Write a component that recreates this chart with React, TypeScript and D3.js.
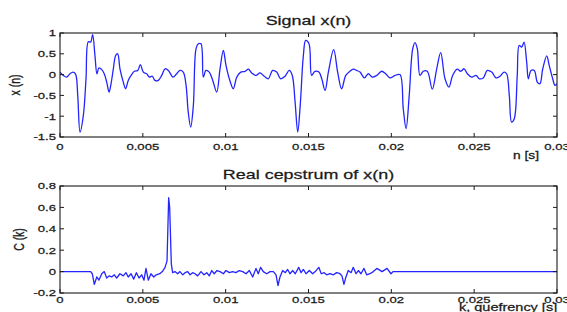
import * as d3 from 'd3';
import React from 'react';

const width = 567;
const height = 312;
const SX = 1.38; // the original figure is stretched horizontally

const xTickVals = [0, 0.005, 0.01, 0.015, 0.02, 0.025, 0.03];
const xTickLabels = ["0", "0.005", "0.01", "0.015", "0.02", "0.025", "0.03"];
const sigTickVals = [1, 0.5, 0, -0.5, -1, -1.5];
const sigTickLabels = ["1", "0.5", "0", "-0.5", "-1", "-1.5"];
const cepTickVals = [0.8, 0.6, 0.4, 0.2, 0, -0.2];
const cepTickLabels = ["0.8", "0.6", "0.4", "0.2", "0", "-0.2"];

// signal x(n), time in ms
const signalMs = [
  0, 0.2, 0.4, 0.6, 0.8, 0.95, 1.07, 1.21, 1.41, 1.57, 1.71, 1.85, 1.97, 2.11, 2.23, 2.35, 2.52, 2.67, 2.82, 2.96,
  3.08, 3.22, 3.36, 3.48, 3.62, 3.82, 3.96, 4.12, 4.29, 4.49, 4.69, 4.85, 5.03, 5.23, 5.39, 5.57, 5.73, 5.93, 6.14, 6.34,
  6.54, 6.82, 7.04, 7.24, 7.44, 7.61, 7.74, 7.89, 8.05, 8.21, 8.35, 8.51, 8.65, 8.81, 9.01, 9.22, 9.46, 9.66, 9.86, 10.02,
  10.22, 10.46, 10.67, 10.91, 11.17, 11.37, 11.57, 11.83, 12.07, 12.33, 12.57, 12.84, 13.08, 13.32, 13.58, 13.84, 14.02, 14.19, 14.35, 14.5,
  14.69, 14.83, 15.03, 15.19, 15.39, 15.63, 15.8, 16.0, 16.2, 16.52, 16.76, 17.0, 17.25, 17.5, 17.7, 17.91, 18.11, 18.37, 18.61, 18.85,
  19.12, 19.42, 19.66, 19.92, 20.22, 20.52, 20.72, 20.89, 21.08, 21.29, 21.43, 21.57, 21.73, 21.93, 22.17, 22.47, 22.74, 22.98, 23.24, 23.48,
  23.7, 23.98, 24.19, 24.39, 24.59, 24.85, 25.11, 25.31, 25.55, 25.79, 26.06, 26.32, 26.56, 26.8, 26.96, 27.12, 27.26, 27.42, 27.6, 27.72,
  27.87, 28.01, 28.17, 28.27, 28.43, 28.63, 28.81, 28.97, 29.14, 29.38, 29.53, 29.74, 29.88, 30.0,
];
const signalX = [
  0.06, -0.02, -0.06, 0.02, 0.06, 0.0, -0.5, -1.38, -0.98, -0.1, 0.79, 0.78, 0.96, 0.46, 0.02, 0.16, 0.12, 0.02, -0.18, -0.42,
  -0.22, 0.14, 0.46, 0.5, 0.14, -0.18, -0.34, -0.14, -0.02, 0.08, 0.1, 0.24, 0.06, 0.02, -0.06, -0.04, -0.14, -0.14, -0.02, 0.14,
  0.1, -0.06, 0.02, 0.1, 0.06, -0.26, -0.9, -1.26, -0.74, 0.62, 0.74, 0.74, -0.06, 0.1, 0.06, -0.14, -0.42, 0.14, 0.58, 0.22,
  -0.1, -0.34, -0.06, 0.06, 0.08, 0.13, 0.04, -0.02, 0.04, -0.04, -0.1, 0.1, 0.06, -0.1, -0.04, 0.1, -0.02, -0.66, -1.38, -0.74,
  0.46, 0.82, 0.74, -0.02, 0.08, 0.06, -0.1, -0.38, 0.06, 0.6, 0.06, -0.34, -0.02, 0.08, 0.13, 0.1, 0.06, -0.08, 0.02, -0.06,
  -0.02, 0.08, 0.02, -0.08, -0.02, 0.0, -0.82, -1.3, -0.5, 0.62, 0.77, 0.62, -0.02, 0.08, 0.08, -0.35, 0.14, 0.53, -0.1, -0.3,
  -0.02, 0.13, 0.08, 0.14, 0.02, -0.06, -0.02, -0.1, -0.08, 0.1, 0.06, -0.08, -0.04, 0.06, 0.02, -0.5, -1.14, -1.06, -0.02, 0.7,
  0.66, 0.78, 0.3, -0.1, 0.1, 0.1, -0.18, -0.22, 0.14, 0.45, 0.22, -0.1, -0.26, -0.22,
];

// real cepstrum C(k), quefrency in ms
const cepMs = [
  0, 1.85, 1.95, 2.07, 2.22, 2.35, 2.52, 2.67, 2.82, 2.96, 3.12, 3.28, 3.42, 3.62, 3.82, 3.98, 4.12, 4.29, 4.45, 4.61,
  4.77, 4.93, 5.07, 5.19, 5.33, 5.49, 5.66, 5.81, 6.02, 6.18, 6.34, 6.46, 6.56, 6.62, 6.72, 6.8, 6.94, 7.1, 7.24, 7.41,
  7.55, 7.71, 7.85, 8.01, 8.15, 8.31, 8.51, 8.69, 8.86, 9.01, 9.16, 9.31, 9.48, 9.66, 9.86, 10.02, 10.22, 10.42, 10.62, 10.82,
  11.03, 11.23, 11.43, 11.63, 11.83, 11.97, 12.11, 12.27, 12.48, 12.68, 12.88, 13.04, 13.16, 13.28, 13.44, 13.6, 13.74, 13.88, 14.05, 14.2,
  14.41, 14.55, 14.69, 14.85, 15.05, 15.25, 15.41, 15.62, 15.77, 15.94, 16.1, 16.3, 16.5, 16.7, 16.9, 17.02, 17.14, 17.26, 17.4, 17.57,
  17.7, 17.87, 18.01, 18.17, 18.35, 18.51, 18.71, 18.91, 19.13, 19.44, 19.74, 19.98, 20.1, 30.0,
];
const cepC = [
  0, 0, -0.02, -0.12, -0.05, -0.08, -0.02, 0, -0.06, -0.04, -0.05, -0.03, -0.06, -0.02, -0.04, -0.01, -0.05, -0.02, -0.07, -0.01,
  -0.06, -0.03, -0.08, 0.03, -0.08, -0.02, -0.05, -0.03, -0.02, 0, 0.04, 0.1, 0.69, 0.6, 0.07, -0.01, 0, -0.02, 0, -0.03,
  -0.01, 0, -0.03, -0.01, -0.02, -0.04, 0, -0.03, -0.01, -0.04, 0.01, -0.02, 0.01, 0, -0.02, 0.01, -0.01, 0, -0.01, 0.01,
  0, -0.02, 0.01, -0.05, 0.03, -0.02, 0.04, 0, -0.02, 0, 0, -0.03, -0.13, -0.05, 0.01, -0.01, 0.02, -0.02, 0.01, -0.02,
  0.04, -0.01, 0.02, -0.02, 0.01, -0.02, 0, 0.04, -0.02, -0.01, -0.03, -0.02, -0.03, -0.01, -0.02, -0.04, -0.12, -0.05, 0.01, -0.01,
  0.04, -0.02, 0.01, -0.02, 0.03, -0.03, -0.02, 0, 0.03, 0, 0.03, -0.02, 0, 0,
];

const font = '"Liberation Sans", Arial, Helvetica, sans-serif';
const ink = "#1a1a1a";
const textStyle = { stroke: ink, strokeWidth: 0.25 };

function Panel(props: any): any {
  const left = 60;
  const right = 557;
  const { top, bottom, ms, vals, yTicks, yLabels, title, titleY, yTitle, yTitleX, xLabelGap, curve, id } = props;

  const xScale = d3.scaleLinear().domain([0, 0.03]).range([left, right]);
  const yScale = d3.scaleLinear().domain([yTicks[yTicks.length - 1], yTicks[0]]).range([bottom, top]);

  const path = d3.line<number>()
    .x((d: number, i: number) => xScale(ms[i] / 1000))
    .y((d: number) => yScale(d))
    .curve(curve)(vals) || "";

  const tick = 4;
  const midY = (top + bottom) / 2;

  return (
    <g>
      <defs>
        <clipPath id={id}>
          <rect x={left} y={top} width={right - left} height={bottom - top} />
        </clipPath>
      </defs>
      <path d={path} fill="none" stroke="#2424ff" strokeWidth={1.3} clipPath={`url(#${id})`} strokeLinejoin="round" />
      <rect x={left} y={top} width={right - left} height={bottom - top} fill="none" stroke={ink} strokeWidth={1.1} />
      {xTickVals.map((v, i) => (
        <g key={"x" + i}>
          <line x1={xScale(v)} x2={xScale(v)} y1={bottom} y2={bottom - tick} stroke={ink} />
          <line x1={xScale(v)} x2={xScale(v)} y1={top} y2={top + tick} stroke={ink} />
          <text transform={`translate(${xScale(v)},${bottom + xLabelGap}) scale(${SX},1)`} textAnchor="middle"
            fontSize={9.5} fontFamily={font} fill={ink} style={textStyle}>{xTickLabels[i]}</text>
        </g>
      ))}
      {yTicks.map((v: number, i: number) => (
        <g key={"y" + i}>
          <line x1={left} x2={left + tick} y1={yScale(v)} y2={yScale(v)} stroke={ink} />
          <line x1={right} x2={right - tick} y1={yScale(v)} y2={yScale(v)} stroke={ink} />
          <text transform={`translate(56,${yScale(v) + 3.4}) scale(${SX},1)`} textAnchor="end"
            fontSize={9.5} fontFamily={font} fill={ink} style={textStyle}>{yLabels[i]}</text>
        </g>
      ))}
      <text transform={`translate(${(left + right) / 2},${titleY}) scale(${SX},1)`} textAnchor="middle"
        fontSize={13} fontFamily={font} fill={ink} style={textStyle}>{title}</text>
      <text transform={`translate(${yTitleX},${midY}) scale(${SX},1) rotate(-90)`} textAnchor="middle"
        fontSize={10.5} fontFamily={font} fill={ink} style={textStyle}>{yTitle}</text>
    </g>
  );
}

function App(): any {
  return (
    <svg width={width} height={height} style={{ position: "absolute", left: 0, top: 0, background: "#fff" }}>
      <rect width={width} height={height} fill="#fff" />
      <Panel id="clipTop" top={33} bottom={137} ms={signalMs} vals={signalX}
        yTicks={sigTickVals} yLabels={sigTickLabels} title="Signal x(n)" titleY={25}
        yTitle="x (n)" yTitleX={20} xLabelGap={12.5} curve={d3.curveCatmullRom.alpha(0.5)} />
      <text transform={`translate(539,158.5) scale(${SX},1)`} textAnchor="end" fontSize={10}
        fontFamily={font} fill={ink} style={textStyle}>n [s]</text>
      <Panel id="clipBottom" top={186} bottom={293} ms={cepMs} vals={cepC}
        yTicks={cepTickVals} yLabels={cepTickLabels} title="Real cepstrum of x(n)" titleY={178.5}
        yTitle="C (k)" yTitleX={24} xLabelGap={9.5} curve={d3.curveLinear} />
      <text transform={`translate(459,311) scale(${SX},1)`} textAnchor="start" fontSize={10.5}
        fontFamily={font} fill={ink} style={textStyle}>k, quefrency [s]</text>
    </svg>
  );
}

export default App;
